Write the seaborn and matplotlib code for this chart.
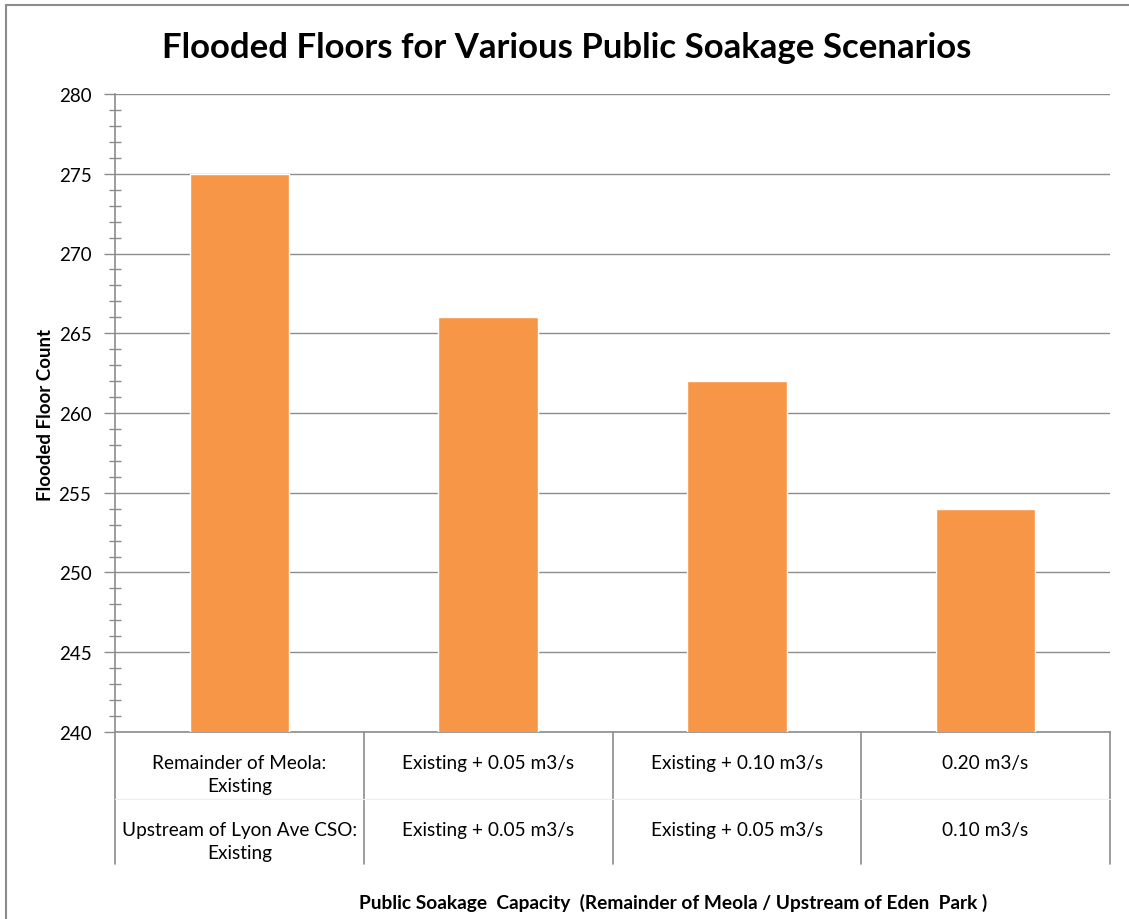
import matplotlib
matplotlib.use("Agg")
import matplotlib.pyplot as plt
import seaborn as sns
import pandas as pd
from matplotlib.patches import Rectangle
from matplotlib.ticker import MultipleLocator

# ---- data ----
categories = ["C1", "C2", "C3", "C4"]
row1_labels = ["Remainder of Meola:\nExisting", "Existing + 0.05 m3/s",
               "Existing + 0.10 m3/s", "0.20 m3/s"]
row2_labels = ["Upstream of Lyon Ave CSO:\nExisting", "Existing + 0.05 m3/s",
               "Existing + 0.05 m3/s", "0.10 m3/s"]
flooded_floors = [275, 266, 262, 254]

title = "Flooded Floors for Various Public Soakage Scenarios"
ylabel = "Flooded Floor Count"
xlabel = "Public Soakage  Capacity  (Remainder of Meola / Upstream of Eden  Park )"

sns.set_theme(style="white")
plt.rcParams["font.family"] = ["Lato", "DejaVu Sans"]

GRAY = "#8c8c8c"
BAR = "#F79646"

fig = plt.figure(figsize=(11.29, 9.2), dpi=100)
ax = fig.add_axes([115/1129, 1-733/920, (1110-115)/1129, (733-95)/920])

df = pd.DataFrame({"cat": categories, "val": flooded_floors})
sns.barplot(data=df, x="cat", y="val", color=BAR, width=0.4, saturation=1,
            ax=ax, zorder=3)

ax.set_ylim(240, 280)
ax.set_xlim(-0.5, len(categories) - 0.5)
ax.yaxis.set_major_locator(MultipleLocator(5))
ax.yaxis.set_minor_locator(MultipleLocator(1))
ax.grid(axis="y", which="major", color=GRAY, linewidth=1, zorder=0)
ax.set_axisbelow(True)

for s in ["top", "right"]:
    ax.spines[s].set_visible(False)
for s in ["left", "bottom"]:
    ax.spines[s].set_color(GRAY)
    ax.spines[s].set_linewidth(1.2)

ax.tick_params(axis="y", which="major", direction="out", length=8, width=1,
               color=GRAY, labelsize=13.5, pad=9, left=True)
ax.tick_params(axis="y", which="minor", direction="inout", length=9, width=1,
               color=GRAY, left=True)
ax.tick_params(axis="x", which="both", bottom=False, labelbottom=False)
for lab in ax.get_yticklabels():
    lab.set_color("black")

ax.set_xlabel("")
ax.set_ylabel("")

# category table lines and labels
tb = ax.get_xaxis_transform()
bottom_frac = -(865 - 733) / 638
for i in range(len(categories) + 1):
    ax.plot([i - 0.5, i - 0.5], [0, bottom_frac], transform=tb, color=GRAY,
            linewidth=1.2, clip_on=False)
ax.plot([-0.5, len(categories) - 0.5], [-(800 - 733) / 638] * 2, transform=tb,
        color="#eeeeee", linewidth=0.8, clip_on=False)

for i, (r1, r2) in enumerate(zip(row1_labels, row2_labels)):
    ax.text(i, -(755 - 733) / 638, r1, transform=tb, ha="center", va="top",
            fontsize=13.7, linespacing=1.45, color="black")
    ax.text(i, -(822 - 733) / 638, r2, transform=tb, ha="center", va="top",
            fontsize=13.7, linespacing=1.45, color="black")

fig.text(567/1129, 1 - 48/920, title, ha="center", va="center",
         fontsize=25, fontweight="bold", color="black")
fig.text(46/1129, 1 - 415/920, ylabel, ha="center", va="center",
         rotation=90, fontsize=13.5, fontweight="bold", color="black")
fig.text(673/1129, 1 - 903/920, xlabel, ha="center", va="center",
         fontsize=13.8, fontweight="bold", color="black")

# outer chart border
fig.patches.append(Rectangle((6/1129, -0.01), 1.02, 1 - 6/920 + 0.01,
                             transform=fig.transFigure, fill=False,
                             edgecolor=GRAY, linewidth=1.5))

fig.savefig("out.png", dpi=100)
